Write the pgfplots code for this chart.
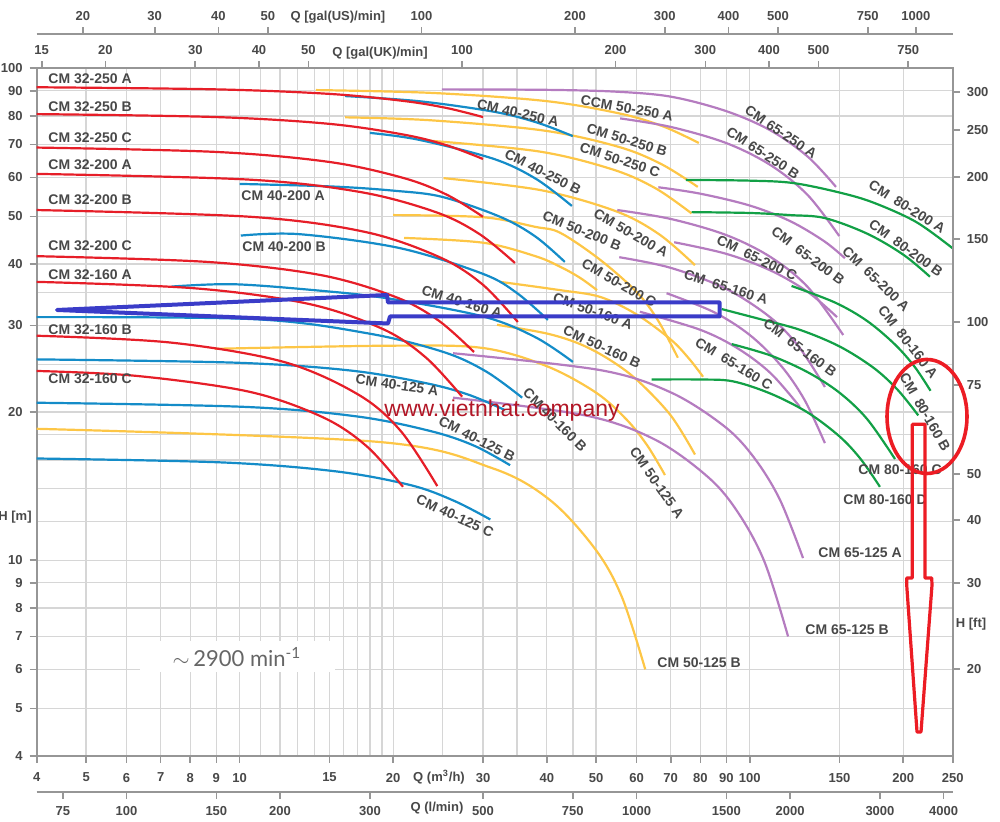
\documentclass[border=0pt]{standalone}
\usepackage{pgfplots}
\pgfplotsset{compat=1.18}
\usepackage{fontspec}
\setmainfont{Liberation Sans}
\newfontfamily\lightfont{Lato}
\definecolor{cmred}{RGB}{230,30,40}
\definecolor{cmblue}{RGB}{20,140,200}
\definecolor{cmyellow}{RGB}{253,198,70}
\definecolor{cmpurple}{RGB}{181,124,192}
\definecolor{cmgreen}{RGB}{18,160,70}
\definecolor{gridgray}{RGB}{214,214,214}
\definecolor{axisgray}{RGB}{150,150,150}
\definecolor{txtgray}{RGB}{72,72,72}
\definecolor{wmred}{RGB}{178,22,38}
\definecolor{polyblue}{RGB}{58,60,200}
\definecolor{annred}{RGB}{236,28,36}
\pgfplotsset{
  base/.style={at={(18.35pt,33pt)},anchor=south west,scale only axis,width=458pt,height=343.85pt,
    axis line style={-,draw=axisgray,line width=1pt},
    tick style={draw=axisgray,line width=0.8pt},
    major tick length=3.5pt, tick align=outside,
    tick label style={font=\fontsize{6.5}{7}\selectfont\bfseries,text=txtgray}},
  cm/.style={line width=1.1pt,smooth,tension=0.55,no markers},
}
\begin{document}
\begin{tikzpicture}
\useasboundingbox (0,0) rectangle (500pt,411pt);
% main axis
\begin{axis}[base,
  xmode=log, ymode=log, xmin=4, xmax=250, ymin=4, ymax=100,
  tick pos=left,
  xtick={4,5,6,7,8,9,10,15,20,30,40,50,60,70,80,90,100,150,200,250},
  xticklabels={4,5,6,7,8,9,10,15,20,30,40,50,60,70,80,90,100,150,200,250},
  ytick={4,5,6,7,8,9,10,20,30,40,50,60,70,80,90,100},
  yticklabels={4,5,6,7,8,9,10,20,30,40,50,60,70,80,90,100},
  minor xtick={11,12,13,14,16,17,18,19,25,35,45},
  minor ytick={12,14,16,18,25,35},
  minor tick length=0pt,
  grid=both,
  major grid style={draw=gridgray,line width=0.7pt},
  minor grid style={draw=gridgray,line width=0.7pt},
  xticklabel style={yshift=-1.5pt},
]
% yellow CM 50
\addplot[cm,cmyellow] coordinates {(14.1,90.3) (23.85,89.1) (39.75,85.8) (55.65,80.9) (67.6,76.2) (79.5,70.5)};
\addplot[cm,cmyellow] coordinates {(16.09,79.5) (23.7,78.4) (39.55,74.7) (55.4,69.2) (67.2,63.8) (79.1,57.4)};
\addplot[cm,cmyellow] coordinates {(22.6,71.5) (38.45,67.8) (53.8,62.3) (65.4,57.0) (76.9,50.7)};
\addplot[cm,cmyellow] coordinates {(25.1,59.8) (39.05,56.5) (54.7,51.2) (66.4,46.0) (78.1,39.8)};
\addplot[cm,cmyellow] coordinates {(20.0,50.3) (30,49.8) (38,47.6) (42.5,46.3) (50.9,40.8) (60,35.1) (66,30.8) (72.3,25.8)};
\addplot[cm,cmyellow] coordinates {(21.0,45.2) (30,44.2) (38,41.5) (42.5,39.5) (46.5,37.5) (50.2,35.4)};
\addplot[cm,cmyellow] coordinates {(32.4,36.8) (42.5,35.4) (50.9,34.3) (60,31.6) (70,28.1) (76,25.7) (81,23.6)};
\addplot[cm,cmyellow] coordinates {(31.95,30.1) (40,28.9) (46.5,27.5) (53,25.6) (60.1,23.25) (70,19.7) (78.1,16.4)};
\addplot[cm,cmyellow] coordinates {(8.94,26.9) (20,27.3) (30,27.0) (40,24.8) (50,21.9) (57.4,19.3) (63,17.1) (68.2,14.9)};
\addplot[cm,cmyellow] coordinates {(4,18.5) (18.7,17.4) (31.2,15.4) (40.6,13.25) (49.9,10.5) (56.2,8.4) (62.4,6.0)};
% purple CM 65
\addplot[cm,cmpurple] coordinates {(24.9,90.6) (40,90.4) (55,89.6) (70.3,87.5) (90,81.8) (110,74.7) (130,66.1) (147.6,57.4)};
\addplot[cm,cmpurple] coordinates {(55.7,79.1) (70,76.0) (90,70.45) (110,63.5) (130,55.2) (149.8,45.6)};
\addplot[cm,cmpurple] coordinates {(66.2,57.3) (80,55.6) (100,52.6) (120,48.9) (140,44.5) (153.7,41.1)};
\addplot[cm,cmpurple] coordinates {(55.0,51.5) (70,49.4) (90,45.8) (110,41.3) (130,35.9) (152.5,28.7)};
\addplot[cm,cmpurple] coordinates {(71.1,44.3) (90,41.95) (110,38.8) (130,35.1) (148.3,31.2)};
\addplot[cm,cmpurple] coordinates {(55.5,41.3) (70,39.3) (90,35.6) (110,31.1) (125,27.1) (140.4,22.5)};
\addplot[cm,cmpurple] coordinates {(68.7,34.9) (85,31.95) (100,28.7) (115,24.9) (128,21.2) (140.4,17.3)};
\addplot[cm,cmpurple] coordinates {(60.9,32.0) (80,29.4) (95,26.9) (110,23.97) (125.4,20.5)};
\addplot[cm,cmpurple] coordinates {(26.2,26.35) (50.9,24.35) (70,21.94) (89,18.75) (101.8,16.2) (114.5,13.3) (127.2,10.1)};
\addplot[cm,cmpurple] coordinates {(26.2,21.4) (47.6,19.7) (65.4,17.56) (83.2,14.7) (95.1,12.45) (107,9.9) (118.9,7.0)};
% green CM 80
\addplot[cm,cmgreen] coordinates {(75,59.3) (100,59.1) (121.6,58.45) (150,55.9) (175,53.3) (212,48.7) (250,43.05)};
\addplot[cm,cmgreen] coordinates {(76.9,51.0) (100,50.8) (120,50.3) (140.4,49.6) (170,46.1) (200,41.8) (225.6,37.7)};
\addplot[cm,cmgreen] coordinates {(120.8,36.1) (147,33.4) (169.7,30.67) (192.3,27.5) (210.4,24.75) (226.2,22.1)};
\addplot[cm,cmgreen] coordinates {(88.1,32.4) (105,30.9) (125.4,29.4) (150,27.2) (175,24.6) (195,22.2) (214,19.7)};
\addplot[cm,cmgreen] coordinates {(92.2,27.5) (110,26.06) (130,24.1) (150,21.9) (170,19.35) (192.7,16.06)};
\addplot[cm,cmgreen] coordinates {(64.2,23.3) (80,23.3) (92.7,23.1) (110,21.8) (130,19.96) (150,17.85) (165,16.06) (180,14.1)};
% blue CM 40
\addplot[cm,cmblue] coordinates {(16.09,87.8) (22.5,85.7) (31.5,81.6) (38.25,77.6) (45,72.8)};
\addplot[cm,cmblue] coordinates {(18.0,73.9) (22.4,71.6) (31.4,65.5) (38.1,59.6) (44.8,52.5)};
\addplot[cm,cmblue] coordinates {(10,58.2) (15.2,57.5) (20,56.4) (24.9,54.8) (32.4,49.9) (38,45.5) (43.4,40.4)};
\addplot[cm,cmblue] coordinates {(10.05,45.7) (13.1,46.0) (20.6,43.1) (30,38.2) (35,34.9) (40.2,30.8)};
\addplot[cm,cmblue] coordinates {(7.36,36.0) (9.7,36.4) (14,35.4) (19.4,34.1) (30,31.3) (38,28.4) (45,25.3)};
\addplot[cm,cmblue] coordinates {(4,31.2) (10.7,30.9) (17.9,28.9) (25.1,26.5) (30.4,24.2) (35.8,21.4)};
\addplot[cm,cmblue] coordinates {(4,25.6) (9.9,25.2) (16.5,24.3) (23.2,22.9) (28.1,21.7) (33.1,20.2)};
\addplot[cm,cmblue] coordinates {(4,20.9) (10.2,20.5) (17,19.6) (23.7,18.3) (28.8,17.1) (33.9,15.6)};
\addplot[cm,cmblue] coordinates {(4,16.1) (9.3,15.8) (15.5,15.15) (21.7,14.2) (26.35,13.2) (31,12.1)};
% red CM 32
\addplot[cm,cmred] coordinates {(4,91.5) (9,90.6) (15,88.7) (21,85.8) (25.5,83.0) (30,79.6)};
\addplot[cm,cmred] coordinates {(4,80.7) (9,79.6) (15,77.1) (21,73.3) (25.5,69.7) (30,65.4)};
\addplot[cm,cmred] coordinates {(4,69.0) (9,67.6) (15,64.5) (21,59.8) (25.5,55.3) (30,49.9)};
\addplot[cm,cmred] coordinates {(4,61.0) (10.4,59.4) (17.3,56.0) (24.3,50.95) (29.5,46.05) (34.65,40.2)};
\addplot[cm,cmred] coordinates {(4,51.5) (10.5,49.9) (17.6,46.5) (24.6,41.35) (29.9,36.4) (35.1,30.5)};
\addplot[cm,cmred] coordinates {(4,41.5) (8.64,40.4) (14.4,38.0) (20.2,34.3) (24.5,30.75) (28.8,26.5)};
\addplot[cm,cmred] coordinates {(4,36.8) (8.19,35.7) (13.65,33.2) (19.1,29.5) (23.2,25.8) (27.3,21.5)};
\addplot[cm,cmred] coordinates {(4,28.6) (7.32,27.7) (12.2,25.3) (17.1,21.7) (20.7,18.3) (24.4,14.15)};
\addplot[cm,cmred] coordinates {(4,24.25) (6.27,23.7) (10.45,22.0) (14.6,19.5) (17.8,17.0) (20.9,14.1)};
\end{axis}
% top UK gallons axis
\begin{axis}[base, xmode=log, xmin=14.6646, xmax=916.54, ymin=0, ymax=1,
  axis x line*=top, hide y axis, xminorticks=false,
  xtick={15,20,30,40,50,100,200,300,400,500,750},
  xticklabels={15,20,30,40,50,100,200,300,400,500,750}]
\end{axis}
% top US gallons axis
\begin{axis}[base, at={(18.35pt,50pt)}, xmode=log, xmin=17.611, xmax=1100.7, ymin=0, ymax=1,
  axis x line*=top, hide y axis, xminorticks=false,
  xtick={21.7,30,40,50,100,200,300,400,500,750,932},
  xticklabels={20,30,40,50,100,200,300,400,500,750,1000}]
\end{axis}
% bottom l/min axis
\begin{axis}[base, at={(18.35pt,15pt)}, xmode=log, xmin=66.667, xmax=4166.7, ymin=0, ymax=1,
  axis x line*=bottom, hide y axis, xminorticks=false,
  xtick={75,100,150,200,300,500,750,1000,1500,2000,3000,4000},
  xticklabels={75,100,150,200,300,500,750,1000,1500,2000,3000,4000}]
\end{axis}
% right ft axis
\begin{axis}[base, ymode=log, ymin=13.1234, ymax=328.084, xmin=0, xmax=1,
  axis y line*=right, hide x axis, yminorticks=false,
  ytick={19.7,29.5,39.6,49.1,74.5,100.1,147.6,197.2,245.8,293.2},
  yticklabels={20,30,40,50,75,100,150,200,250,300}]
\end{axis}
% annotations in pixel frame
\begin{scope}[x=0.5pt,y=-0.5pt,yshift=411pt,
  lbl/.style={font=\fontsize{7}{8}\selectfont\bfseries,text=txtgray,inner sep=0pt},
  axl/.style={font=\fontsize{6.5}{7}\selectfont\bfseries,text=txtgray,inner sep=0pt}]
\node[axl] at (338,17) {Q [gal(US)/min]};
\node[axl] at (380,53) {Q [gal(UK)/min]};
\node[axl] at (439,777) {Q (m\textsuperscript{3}/h)};
\node[axl] at (437,808) {Q (l/min)};
\node[axl] at (15,517) {H [m]};
\node[axl] at (971,624) {H [ft]};
% left labels
\foreach \y/\t in {79/CM 32-250 A,107/CM 32-250 B,138/CM 32-250 C,165/CM 32-200 A,200/CM 32-200 B,246/CM 32-200 C,275/CM 32-160 A,330/CM 32-160 B,379/CM 32-160 C}
  \node[lbl,anchor=west] at (48,\y) {\t};
\node[lbl,anchor=west] at (241,196) {CM 40-200 A};
\node[lbl,anchor=west] at (242,247) {CM 40-200 B};
% rotated labels
\node[lbl,rotate=-13] at (518,113) {CM 40-250 A};
\node[lbl,rotate=-10] at (627,108) {CCM 50-250 A};
\node[lbl,rotate=-17] at (627,140) {CM 50-250 B};
\node[lbl,rotate=-18] at (620,160) {CM 50-250 C};
\node[lbl,rotate=-27] at (543,172) {CM 40-250 B};
\node[lbl,rotate=-34] at (781,132) {CM 65-250 A};
\node[lbl,rotate=-33] at (763,153) {CM 65-250 B};
\node[lbl,rotate=-32] at (907,207) {CM\ \ 80-200 A};
\node[lbl,rotate=-36] at (906,248) {CM\ \ 80-200 B};
\node[lbl,rotate=-30] at (631,233) {CM 50-200 A};
\node[lbl,rotate=-22] at (582,231) {CM 50-200 B};
\node[lbl,rotate=-30] at (619,283) {CM 50-200 C};
\node[lbl,rotate=-26] at (757,258) {CM\ \ 65-200 C};
\node[lbl,rotate=-37] at (808,256) {CM\ \ 65-200 B};
\node[lbl,rotate=-44] at (876,279) {CM\ \ 65-200 A};
\node[lbl,rotate=-18] at (726,287) {CM\ \ 65-160 A};
\node[lbl,rotate=-37] at (800,348) {CM\ \ 65-160 B};
\node[lbl,rotate=-31] at (734,364) {CM\ \ 65-160 C};
\node[lbl,rotate=-52] at (908,342) {CM\ \ 80-160 A};
\node[lbl,rotate=-60] at (925,412) {CM\ \ 80-160 B};
\node[lbl,anchor=west] at (858,470) {CM 80-160 C};
\node[lbl,anchor=west] at (843,500) {CM 80-160 D};
\node[lbl,anchor=west] at (818,553) {CM 65-125 A};
\node[lbl,anchor=west] at (805,630) {CM 65-125 B};
\node[lbl,anchor=west] at (657,663) {CM 50-125 B};
\node[lbl,rotate=-55] at (657,483) {CM 50-125 A};
\node[lbl,rotate=-20] at (593,311) {CM 50-160 A};
\node[lbl,rotate=-25] at (602,347) {CM 50-160 B};
\node[lbl,rotate=-17] at (462,302) {CM 40-160 A};
\node[lbl,rotate=-45] at (555,420) {CM 40-160 B};
\node[lbl,rotate=-8] at (397,385) {CM 40-125 A};
\node[lbl,rotate=-27] at (477,439) {CM 40-125 B};
\node[lbl,rotate=-25] at (455,516) {CM 40-125 C};
% speed box
\fill[white] (140,641) rectangle (335,672);
\node[font=\lightfont\fontsize{11}{12}\selectfont,text=black!60,inner sep=0pt] at (237,657) {$\sim$\,2900 min\textsuperscript{-1}};
% watermark
\node[font=\fontsize{11.5}{12}\selectfont,text=wmred,inner sep=0pt] at (502,411) {www.vietnhat.company};
% blue polygon
\draw[polyblue,line width=2pt,line join=round] (57,310) -- (387,295) -- (388,302.5) -- (719.5,302.5) -- (719.5,316.5) -- (390,316.5) -- (388,323.5) -- cycle;
% red ellipse and arrow
\draw[annred,line width=1.8pt] (927,416.5) ellipse [x radius=20pt, y radius=28.5pt];
\draw[annred,line width=1.6pt,line join=round] (912.3,424.3) -- (925,424.3) -- (925,578) -- (931.7,578) -- (932,585) -- (921,732) -- (917,732) -- (906.7,585) -- (906.7,578) -- (912.3,578) -- cycle;
\end{scope}
\end{tikzpicture}
\end{document}
